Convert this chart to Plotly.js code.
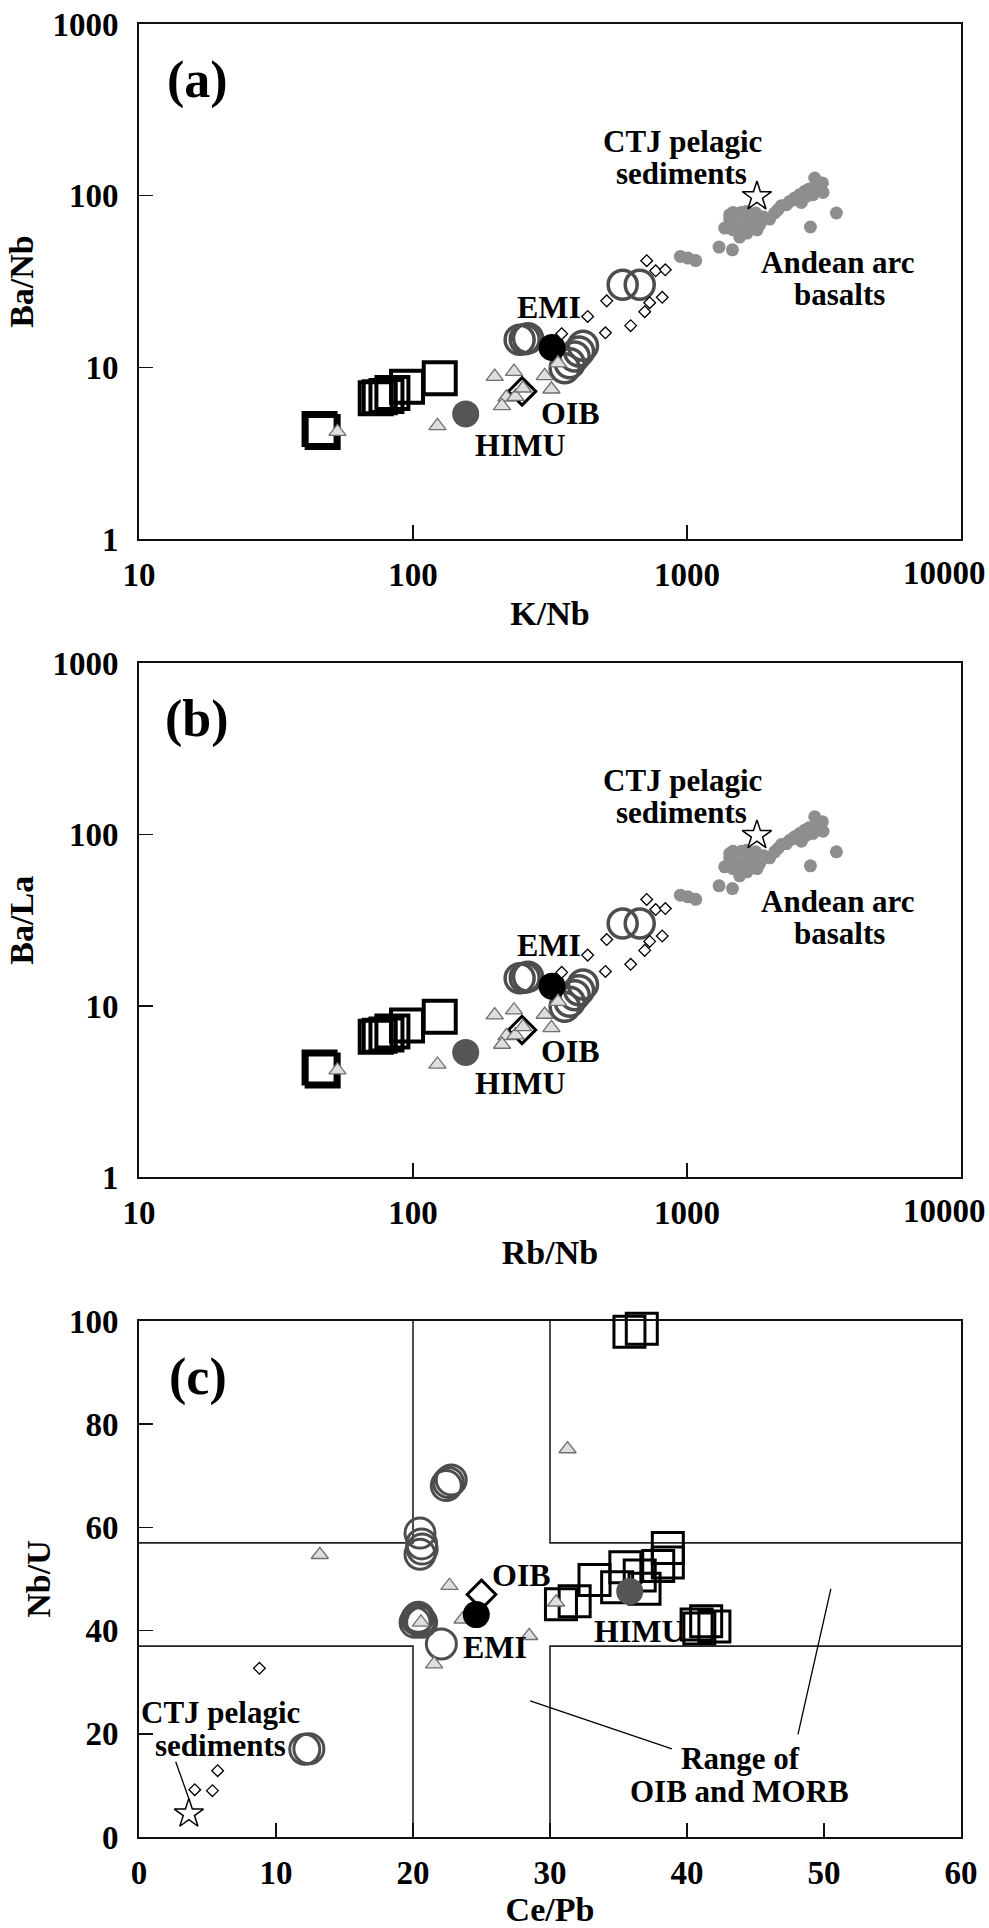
<!DOCTYPE html>
<html><head><meta charset="utf-8">
<script src="https://cdn.plot.ly/plotly-3.0.1.min.js"></script>
<style>html,body{margin:0;padding:0;background:#fff;}#chart{width:989px;height:1928px;}</style>
</head><body><div id="chart"></div>
<script>
// ---------- Panels (a) and (b): values ----------
const sqX = [45.6, 46.8, 73.1, 75.6, 80.0, 84.1, 95.1, 125.2];
const sqY = [4.38, 4.21, 6.61, 6.70, 6.82, 7.10, 7.70, 8.65];
const ciX = [245, 255.7, 262.9, 417.3, 403.5, 389.1, 373.1, 357.7, 582.4, 672.1];
const ciY = [14.5, 14.6, 14.8, 13.35, 12.37, 11.56, 10.58, 9.89, 30.3, 30.3];
const trX = [198.7, 233.7, 302.5, 338.2, 320.0, 219.3, 211.3, 236.4, 252.1, 53.0, 122.8];
const trY = [8.84, 9.45, 8.92, 10.6, 7.46, 6.70, 5.96, 6.76, 7.56, 4.22, 4.56];
const dmX = [712.8, 768.8, 833.4, 509.3, 730.9, 812.1, 700.9, 623.0, 434.0, 503.8, 348.9];
const dmY = [41.8, 36.5, 37.0, 24.4, 23.8, 25.6, 21.1, 17.5, 19.8, 15.9, 15.7];
const anX = [946,1008,1076,1309,1465,1373,1432,1472,1579,1515,1656,1733,1557,1656,1801,1781,1905,2003,2090,2211,2371,2473,2578,2690,2789,2925,3120,3136,2615,2822,3510,1472,1648,1432,1842,2148,2306,2507,2729,2884,2967,1579,1718];
const anY = [44.3,43.3,41.9,50.2,48.4,64.8,73.1,79.9,79.9,68.7,71.8,75.1,57.4,60.6,63.3,79.3,75.1,73.1,79.3,87.5,92.6,97.0,101.4,106,109.4,126.8,118.6,104.5,91.4,65.7,79.3,63.3,81.0,77.5,67.8,82.9,88.6,94.8,99.1,101.4,110.9,63.3,64.8];
const ctjX = [1800], ctjY = [99];
const emiX = [321.6], emiY = [13.05];
const himuX = [155.7], himuY = [5.36];
const oibX = [250], oibY = [7.25];
const logTicks = [1, 10, 100, 1000, 10000];
const logTickText = ['1', '10', '100', '1000', '10000'];

// ---------- Panel (c): Ce/Pb vs Nb/U ----------
const ceSq = [30.8,31.8,33.25,34.9,35.5,36.55,36.9,37.9,38.6,38.6,35.8,36.7,40.7,41.4,42.0,40.9];
const nbuSq = [45.1,45.7,49.8,48.4,52.3,50.7,48.1,52.5,53.2,56.0,97.9,98.5,41.2,41.8,40.8,40.4];
const ceCi = [22.43,22.59,22.79,20.51,20.63,20.67,20.51,20.27,20.39,20.51,20.63,20.15,22.07,12.1,12.4];
const nbuCi = [68.1,68.7,69.2,58.9,56.8,55.8,54.8,42.2,42.6,41.9,41.6,41.6,37.4,17.0,17.1];
const ceTr = [31.28,13.2,20.58,22.66,23.62,28.48,21.54,30.44];
const nbuTr = [75.2,54.7,41.6,48.7,42.2,39.0,33.5,45.5];
const ceDm = [8.79,5.74,4.07,5.36], nbuDm = [32.7,12.85,9.17,8.98];
const ceCtj = [3.64], nbuCtj = [4.5];
const ceEmi = [24.62], nbuEmi = [43.1];
const ceHimu = [35.82], nbuHimu = [47.6];
const ceOib = [25], nbuOib = [47];
const ceRange = [20, 30];   // OIB & MORB Ce/Pb range
const nbuRange = [37, 57];  // OIB & MORB Nb/U range
const linTicksX = [0,10,20,30,40,50,60];
const linTicksY = [0,20,40,60,80,100];

// ---------- styles ----------
const FONT = 'Liberation Serif, Times New Roman, serif';
const sty = {
  sq: {symbol:'square', size:32, color:'rgba(0,0,0,0)', line:{color:'#000', width:4}},
  sqc: {symbol:'square', size:31, color:'rgba(0,0,0,0)', line:{color:'#000', width:3}},
  ci: {symbol:'circle', size:29, color:'rgba(0,0,0,0)', line:{color:'#4d4d4d', width:3.5}},
  cic: {symbol:'circle', size:30, color:'rgba(0,0,0,0)', line:{color:'#4d4d4d', width:3}},
  tr: {symbol:'triangle-up', size:15, color:'#dedede', line:{color:'#707070', width:1.3}},
  dm: {symbol:'diamond', size:9, color:'#fff', line:{color:'#000', width:1.3}},
  an: {symbol:'circle', size:13, color:'#8e8e8e', line:{width:0}},
  star: {symbol:'star', size:22, color:'#fff', line:{color:'#000', width:1.5}},
  emi: {symbol:'circle', size:27, color:'#000', line:{width:0}},
  himu: {symbol:'circle', size:27, color:'#555', line:{width:0}},
  oib: {symbol:'diamond', size:21, color:'rgba(0,0,0,0)', line:{color:'#000', width:3}},
  oibc: {symbol:'diamond', size:22, color:'#fff', line:{color:'#000', width:3}}
};
function tr(x, y, m, xa, ya) {
  return {type:'scatter', mode:'markers', x:x, y:y, xaxis:xa, yaxis:ya, marker:m, hoverinfo:'skip', cliponaxis:false};
}
const traces = [];
[['x','y'],['x2','y2']].forEach(([xa, ya]) => {
  traces.push(tr(sqX, sqY, sty.sq, xa, ya));
  traces.push(tr(ciX, ciY, sty.ci, xa, ya));
  traces.push(tr(emiX, emiY, sty.emi, xa, ya));
  traces.push(tr(himuX, himuY, sty.himu, xa, ya));
  traces.push(tr(anX, anY, sty.an, xa, ya));
  traces.push(tr(dmX, dmY, sty.dm, xa, ya));
  traces.push(tr(oibX, oibY, sty.oib, xa, ya));
  traces.push(tr(trX, trY, sty.tr, xa, ya));
  traces.push(tr(ctjX, ctjY, sty.star, xa, ya));
});
// cross-shaped range boundary for panel (c)
const xMax = 60, yMax = 100;
traces.push({type:'scatter', mode:'lines', xaxis:'x3', yaxis:'y3', hoverinfo:'skip',
  x:[ceRange[0],ceRange[0],0,null,0,ceRange[0],ceRange[0],null,ceRange[1],ceRange[1],xMax,null,xMax,ceRange[1],ceRange[1]],
  y:[yMax,nbuRange[1],nbuRange[1],null,nbuRange[0],nbuRange[0],0,null,yMax,nbuRange[1],nbuRange[1],null,nbuRange[0],nbuRange[0],0],
  line:{color:'#222', width:1.6}});
traces.push(tr(ceSq, nbuSq, sty.sqc, 'x3', 'y3'));
traces.push(tr(ceCi, nbuCi, sty.cic, 'x3', 'y3'));
traces.push(tr(ceTr, nbuTr, sty.tr, 'x3', 'y3'));
traces.push(tr(ceDm, nbuDm, sty.dm, 'x3', 'y3'));
traces.push(tr(ceOib, nbuOib, sty.oibc, 'x3', 'y3'));
traces.push(tr(ceEmi, nbuEmi, sty.emi, 'x3', 'y3'));
traces.push(tr(ceHimu, nbuHimu, sty.himu, 'x3', 'y3'));
traces.push(tr(ceCtj, nbuCtj, sty.star, 'x3', 'y3'));

const tickFont = {family:FONT, size:33, color:'#000', weight:'bold'};
const titleFont = {family:FONT, size:34, color:'#000', weight:'bold'};
function axisBase(extra) {
  return Object.assign({showline:true, mirror:true, linecolor:'#111', linewidth:2, ticks:'inside', ticklen:14,
    tickwidth:1.5, tickcolor:'#111', showgrid:false, zeroline:false, tickfont:tickFont, fixedrange:true}, extra);
}
function logX(title, anchor) {
  // the last label (10000) sits inside the figure edge, drawn as an annotation below
  return axisBase({type:'log', range:[1,4], tickvals:logTicks.slice(1, 4), ticktext:logTickText.slice(1, 4),
    anchor:anchor, ticklabelstandoff:5, title:{text:title, font:titleFont, standoff:10}});
}
function logY(title, anchor, domain) {
  return axisBase({type:'log', range:[0,3], tickvals:logTicks.slice(0,4), ticktext:logTickText.slice(0,4),
    anchor:anchor, domain:domain, ticklabelstandoff:12, title:{text:title, font:titleFont, standoff:8}});
}
function ann(xref, yref, x, y, text, size) {
  return {xref:xref, yref:yref, x:x, y:y, text:text, showarrow:false, xanchor:'center', yanchor:'middle',
    font:{family:FONT, size:size||31, color:'#000', weight:'bold'}};
}
const annotations = [];
[['x','y','(a)'],['x2','y2','(b)']].forEach(([xa, ya, lab]) => {
  // positions on log axes are given in log10 units
  annotations.push(ann(xa, ya, 1.213, 2.676, lab, 52));
  annotations.push(ann(xa, ya, 2.984, 2.315, 'CTJ pelagic'));
  annotations.push(ann(xa, ya, 2.980, 2.128, 'sediments'));
  annotations.push(ann(xa, ya, 3.552, 1.609, 'Andean arc'));
  annotations.push(ann(xa, ya, 3.556, 1.423, 'basalts'));
  annotations.push(ann(xa, ya, 2.496, 1.353, 'EMI', 32));
  annotations.push(ann(xa, ya, 2.573, 0.735, 'OIB', 32));
  annotations.push(ann(xa, ya, 2.394, 0.548, 'HIMU', 32));
  const t = ann(xa, ya + ' domain', Math.log10(logTicks[4]), 0, logTickText[4], 33);
  t.xanchor = 'right'; t.xshift = 27; t.yshift = -34;
  annotations.push(t);
});
annotations.push(ann('x3','y3', 4.28, 89.1, '(c)', 52));
annotations.push(ann('x3','y3', 27.9, 50.7, 'OIB', 32));
annotations.push(ann('x3','y3', 26.0, 36.9, 'EMI', 32));
annotations.push(ann('x3','y3', 36.5, 40.0, 'HIMU', 32));
annotations.push(ann('x3','y3', 5.96, 24.2, 'CTJ pelagic'));
annotations.push(ann('x3','y3', 5.96, 17.8, 'sediments'));
annotations.push(ann('x3','y3', 43.9, 15.2, 'Range of'));
annotations.push(ann('x3','y3', 43.8, 8.8, 'OIB and MORB'));

const shapes = [
  {type:'line', xref:'x3', yref:'y3', x0:2.68, y0:14.6, x1:3.64, y1:7.4, line:{color:'#000', width:1.3}},
  {type:'line', xref:'x3', yref:'y3', x0:38.9, y0:17.1, x1:28.55, y1:26.4, line:{color:'#000', width:1.3}},
  {type:'line', xref:'x3', yref:'y3', x0:48.1, y0:19.9, x1:50.5, y1:48.1, line:{color:'#000', width:1.3}}
];

const layout = {
  width:989, height:1928, paper_bgcolor:'#fff', plot_bgcolor:'#fff', showlegend:false,
  margin:{l:139, r:28, t:24, b:91},
  xaxis: logX('K/Nb', 'y'),
  yaxis: logY('Ba/Nb', 'x', [0.7159, 1]),
  xaxis2: logX('Rb/Nb', 'y2'),
  yaxis2: logY('Ba/La', 'x2', [0.3638, 0.6475]),
  xaxis3: axisBase({range:[0,60], tickvals:linTicksX, anchor:'y3', ticklabelstandoff:5, title:{text:'Ce/Pb', font:titleFont, standoff:3}}),
  yaxis3: axisBase({range:[0,100], tickvals:linTicksY, anchor:'x3', domain:[0,0.2846], ticklabelstandoff:12, title:{text:'Nb/U', font:titleFont, standoff:8}}),
  annotations: annotations, shapes: shapes, hovermode:false
};
Plotly.newPlot('chart', traces, layout, {staticPlot:true, displayModeBar:false});
</script></body></html>
